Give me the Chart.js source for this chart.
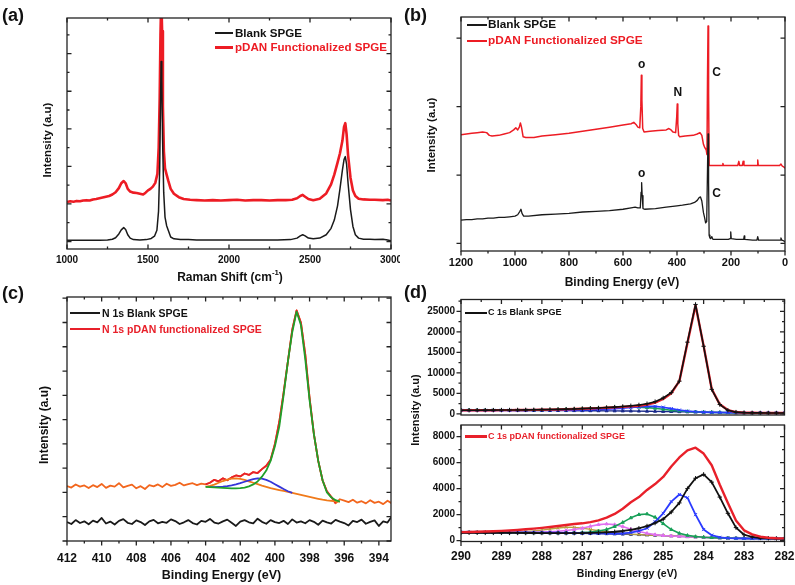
<!DOCTYPE html>
<html><head><meta charset="utf-8">
<script src="https://cdn.jsdelivr.net/npm/chart.js@4.4.1/dist/chart.umd.min.js"></script>
<style>
html,body{margin:0;padding:0;background:#fff;}
#wrap{position:relative;width:795px;height:585px;overflow:hidden;background:#fff;}
canvas{position:absolute;}
.t{position:absolute;font-family:'Liberation Sans',Arial,sans-serif;font-weight:bold;white-space:nowrap;line-height:1;color:#111;}
.c{transform:translate(-50%,-50%);}
.r{transform:translate(-50%,-50%) rotate(-90deg);}
.ln{position:absolute;height:2px;}
sup{font-size:65%;vertical-align:top;position:relative;top:-2px;}
</style></head><body>
<div id="wrap">
<canvas id="ca" width="400" height="290" style="left:0;top:0;width:400px;height:290px"></canvas>
<canvas id="cb" width="398" height="290" style="left:397px;top:0;width:398px;height:290px"></canvas>
<canvas id="cc" width="400" height="295" style="left:0;top:290px;width:400px;height:295px"></canvas>
<canvas id="cd1" width="398" height="130" style="left:397px;top:290px;width:398px;height:130px"></canvas>
<canvas id="cd2" width="398" height="165" style="left:397px;top:420px;width:398px;height:165px"></canvas>

<!-- panel labels -->
<div class="t" style="left:2px;top:6px;font-size:18px">(a)</div>
<div class="t" style="left:404px;top:6px;font-size:18px">(b)</div>
<div class="t" style="left:2px;top:284px;font-size:18px">(c)</div>
<div class="t" style="left:404px;top:283px;font-size:18px">(d)</div>

<!-- legends (a) -->
<div class="ln" style="left:215px;top:32px;width:18px;background:#1a1a1a"></div>
<div class="t" style="left:235px;top:27.4px;font-size:11.6px">Blank SPGE</div>
<div class="ln" style="left:215px;top:46px;width:18px;height:2.5px;background:#ed1c24"></div>
<div class="t" style="left:235px;top:41.4px;font-size:11.6px;color:#ed1c24">pDAN Functionalized SPGE</div>
<!-- legends (b) -->
<div class="ln" style="left:467px;top:24px;width:20px;background:#1a1a1a"></div>
<div class="t" style="left:488px;top:19.2px;font-size:11.8px">Blank SPGE</div>
<div class="ln" style="left:467px;top:40px;width:20px;background:#ed1c24"></div>
<div class="t" style="left:488px;top:35.2px;font-size:11.8px;color:#ed1c24">pDAN Functionalized SPGE</div>
<!-- legends (c) -->
<div class="ln" style="left:70px;top:312px;width:30px;background:#1a1a1a"></div>
<div class="t" style="left:102px;top:308px;font-size:10.5px">N 1s Blank SPGE</div>
<div class="ln" style="left:70px;top:328px;width:30px;background:#e8202a"></div>
<div class="t" style="left:102px;top:324px;font-size:10.5px;color:#e8202a">N 1s pDAN functionalized SPGE</div>
<!-- legends (d) -->
<div class="ln" style="left:465px;top:311.5px;width:22px;height:2.5px;background:#111"></div>
<div class="t" style="left:488px;top:308.3px;font-size:9px">C 1s Blank SPGE</div>
<div class="ln" style="left:465px;top:435px;width:22px;height:2.5px;background:#e8202a"></div>
<div class="t" style="left:488px;top:431.6px;font-size:9px;color:#e8202a">C 1s pDAN functionalized SPGE</div>

<!-- axis titles -->
<div class="t c" style="left:230px;top:276.5px;font-size:12px">Raman Shift (cm<sup>-1</sup>)</div>
<div class="t r" style="left:48px;top:140px;font-size:11.5px">Intensity (a.u)</div>
<div class="t c" style="left:622px;top:281.5px;font-size:12px">Binding Energy (eV)</div>
<div class="t r" style="left:431.5px;top:135px;font-size:11.5px">Intensity (a.u)</div>
<div class="t c" style="left:221.5px;top:575px;font-size:12.5px">Binding Energy (eV)</div>
<div class="t r" style="left:43.5px;top:425px;font-size:12px">Intensity (a.u)</div>
<div class="t c" style="left:627px;top:573.3px;font-size:10.5px">Binding Energy (eV)</div>
<div class="t r" style="left:415px;top:410px;font-size:11px">Intensity (a.u)</div>
</div>

<script>
// ================= DATA =================
// (a) Raman spectra  [Raman shift cm-1, intensity a.u.]
const ramanTicksX = [1000, 1500, 2000, 2500, 3000];
const ramanMinorX = [1250, 1750, 2250, 2750];
const ramanTicksY = [0, 1, 2, 3, 4, 5];
const ramanMinorY = [0.5, 1.5, 2.5, 3.5, 4.5, 5.5];
const ramanBlank = [[1000,0.03],[1050,0.03],[1100,0.03],[1150,0.03],[1200,0.03],[1250,0.04],[1280,0.06],[1300,0.10],[1320,0.20],[1335,0.31],[1350,0.37],[1362,0.32],[1375,0.18],[1390,0.09],[1410,0.05],[1450,0.04],[1490,0.05],[1520,0.08],[1540,0.14],[1555,0.30],[1565,0.8],[1572,1.9],[1577,3.6],[1581,4.79],[1585,4.3],[1590,2.7],[1597,1.3],[1605,0.65],[1615,0.42],[1625,0.30],[1640,0.12],[1660,0.07],[1700,0.05],[1750,0.05],[1800,0.04],[1900,0.04],[2000,0.04],[2100,0.04],[2200,0.04],[2300,0.04],[2380,0.05],[2420,0.09],[2440,0.15],[2455,0.18],[2470,0.15],[2490,0.09],[2520,0.07],[2560,0.09],[2600,0.18],[2630,0.35],[2650,0.57],[2670,0.95],[2685,1.40],[2700,1.90],[2710,2.18],[2718,2.26],[2726,2.05],[2735,1.55],[2750,0.85],[2765,0.40],[2780,0.18],[2800,0.09],[2830,0.06],[2870,0.06],[2900,0.05],[2950,0.06],[2980,0.04],[3000,0.02]];
const ramanPdan = [[1000,1.05],[1020,1.07],[1040,1.06],[1060,1.08],[1080,1.07],[1100,1.09],[1120,1.10],[1140,1.09],[1160,1.12],[1180,1.13],[1200,1.15],[1220,1.17],[1240,1.19],[1260,1.21],[1280,1.25],[1300,1.31],[1320,1.42],[1335,1.55],[1350,1.61],[1362,1.55],[1375,1.40],[1390,1.33],[1410,1.30],[1430,1.29],[1450,1.27],[1470,1.25],[1485,1.30],[1500,1.36],[1515,1.40],[1530,1.46],[1545,1.56],[1558,1.80],[1566,2.5],[1572,3.8],[1577,5.5],[1582,6.5],[1587,5.6],[1592,3.6],[1598,2.4],[1605,1.95],[1615,1.78],[1625,1.62],[1640,1.40],[1660,1.27],[1690,1.18],[1720,1.13],[1760,1.11],[1800,1.10],[1850,1.09],[1900,1.10],[1950,1.09],[2000,1.10],[2050,1.11],[2100,1.09],[2150,1.10],[2200,1.10],[2250,1.09],[2300,1.10],[2350,1.10],[2390,1.11],[2420,1.15],[2440,1.21],[2455,1.24],[2470,1.19],[2490,1.13],[2520,1.10],[2560,1.14],[2600,1.28],[2630,1.52],[2650,1.78],[2670,2.10],[2685,2.35],[2700,2.68],[2710,3.05],[2718,3.15],[2726,2.85],[2735,2.30],[2750,1.70],[2765,1.36],[2780,1.21],[2800,1.14],[2830,1.12],[2870,1.11],[2900,1.11],[2950,1.10],[2980,1.11],[3000,1.09]];

// (b) XPS survey  [binding energy eV, intensity a.u.]
const surveyTicksX = [1200, 1000, 800, 600, 400, 200, 0];
const surveyMinorX = [1100, 900, 700, 500, 300, 100];
const surveyTicksY = [0, 1, 2, 3];
const surveyBlank = [[1200,0.34],[1180,0.35],[1160,0.35],[1140,0.36],[1120,0.36],[1100,0.37],[1080,0.37],[1060,0.38],[1040,0.38],[1020,0.39],[1000,0.40],[990,0.42],[982,0.47],[978,0.50],[974,0.44],[968,0.40],[950,0.40],[900,0.42],[850,0.43],[800,0.44],[750,0.46],[700,0.47],[650,0.48],[600,0.50],[570,0.52],[555,0.53],[545,0.52],[536,0.52],[533,0.75],[531,0.89],[529,0.70],[526,0.51],[520,0.50],[480,0.51],[440,0.53],[400,0.55],[380,0.56],[350,0.58],[335,0.60],[325,0.63],[318,0.67],[313,0.68],[308,0.62],[302,0.45],[298,0.38],[294,0.30],[290,0.32],[287,1.1],[285,1.6],[283,0.9],[281,0.12],[278,0.08],[275,0.07],[271,0.10],[267,0.06],[240,0.06],[210,0.06],[203,0.07],[201,0.17],[199,0.07],[180,0.06],[160,0.06],[153,0.06],[151,0.11],[149,0.06],[120,0.05],[104,0.05],[101,0.10],[98,0.05],[60,0.05],[30,0.05],[18,0.05],[15,0.08],[12,0.05],[5,0.04],[0,0.02]];
const surveyPdan = [[1200,1.59],[1180,1.60],[1160,1.61],[1140,1.62],[1120,1.63],[1105,1.62],[1095,1.58],[1085,1.57],[1060,1.58],[1040,1.60],[1020,1.62],[1005,1.66],[997,1.69],[990,1.66],[984,1.70],[980,1.76],[976,1.70],[970,1.56],[960,1.55],[930,1.55],[900,1.57],[850,1.59],[800,1.61],[750,1.64],[700,1.67],[650,1.70],[600,1.73],[570,1.75],[560,1.77],[552,1.74],[545,1.70],[538,1.69],[534,2.0],[532,2.46],[530,2.1],[527,1.68],[522,1.63],[500,1.64],[470,1.65],[440,1.66],[430,1.68],[422,1.66],[415,1.63],[405,1.62],[401,1.85],[399,2.04],[397,1.75],[394,1.58],[390,1.56],[370,1.57],[340,1.58],[325,1.60],[315,1.62],[308,1.58],[302,1.45],[297,1.40],[292,1.37],[289,1.30],[287,2.4],[285,3.18],[283,2.2],[281,1.14],[275,1.14],[240,1.14],[232,1.14],[230,1.17],[228,1.14],[200,1.14],[175,1.14],[171,1.20],[168,1.14],[158,1.14],[155,1.20],[152,1.14],[110,1.14],[103,1.14],[101,1.22],[99,1.14],[50,1.14],[20,1.14],[15,1.16],[10,1.13],[5,1.12],[0,1.10]];
const surveyNotes = [{x:531,y:2.61,t:'o'},{x:397,y:2.20,t:'N'},{x:253,y:2.50,t:'C'},{x:531,y:1.02,t:'o'},{x:253,y:0.73,t:'C'}];

// (c) N 1s  [binding energy eV, intensity a.u.]
const n1sTicksX = [412, 410, 408, 406, 404, 402, 400, 398, 396, 394];
const n1sMinorX = [411, 409, 407, 405, 403, 401, 399, 397, 395];
const n1sTicksY = [0, 1, 2, 3, 4, 5, 6, 7, 8, 9, 10];
const n1sX = [412,411.75,411.5,411.25,411,410.75,410.5,410.25,410,409.75,
  409.5,409.25,409,408.75,408.5,408.25,408,407.75,407.5,407.25,
  407,406.75,406.5,406.25,406,405.75,405.5,405.25,405,404.75,
  404.5,404.25,404,403.75,403.5,403.25,403,402.75,402.5,402.25,
  402,401.75,401.5,401.25,401,400.75,400.5,400.25,400,399.75,
  399.5,399.25,399,398.75,398.5,398.25,398,397.75,397.5,397.25,
  397,396.75,396.5,396.25,396,395.75,395.5,395.25,395,394.75,
  394.5,394.25,394,393.75,393.5,393.25];
const n1sBlank = [0.78,0.70,0.86,0.74,0.81,0.69,0.84,0.77,0.95,0.72,
  0.80,0.68,0.83,0.90,0.75,0.70,0.85,0.78,0.66,0.81,
  0.87,0.73,0.79,0.75,0.89,0.82,0.70,0.77,0.86,0.74,
  0.68,0.83,0.79,0.91,0.76,0.72,0.81,0.88,0.75,0.62,
  0.80,0.86,0.77,0.73,0.92,0.79,0.71,0.86,0.78,0.74,
  0.83,0.70,0.89,0.76,0.81,0.73,0.86,0.79,0.67,0.84,
  0.77,0.72,0.87,0.80,0.74,0.64,0.83,0.78,0.88,0.71,
  0.79,0.85,0.62,0.81,0.76,1.02];
const n1sPdan = [2.26,2.20,2.33,2.24,2.29,2.18,2.30,2.22,2.35,2.19,
  2.28,2.24,2.38,2.21,2.27,2.32,2.17,2.26,2.14,2.30,
  2.25,2.33,2.22,2.36,2.27,2.31,2.40,2.29,2.34,2.38,
  2.30,2.36,2.33,2.40,2.52,2.46,2.58,2.50,2.62,2.70,
  2.66,2.78,2.72,2.84,2.80,2.96,3.10,3.35,4.0,4.9,
  6.1,7.4,8.7,9.5,9.0,7.7,5.9,4.4,3.3,2.5,
  2.05,1.82,1.55,1.72,1.66,1.60,1.70,1.58,1.64,1.55,
  1.68,1.57,1.62,1.52,1.66,1.55];
// fitted curves, x = n1sX from index 32 (404 eV)
const n1sMainFit = [2.23,2.22,2.21,2.20,2.19,2.18,2.17,2.17,2.18,2.20,2.25,2.33,2.45,2.65,2.90,3.30,3.90,4.70,6.00,7.40,8.60,9.45,8.90,7.50,5.80,4.40,3.30,2.50,2.00,1.80,1.68,1.62];
const n1sBackground = [2.23,2.27,2.32,2.40,2.47,2.53,2.57,2.58,2.56,2.52,2.46,2.40,2.34,2.28,2.23,2.18,2.14,2.10,2.06,2.02,1.98,1.94,1.90,1.86,1.82,1.78,1.74,1.70,1.67,1.65,1.63,1.62];
// x = n1sX from index 33 (403.75 eV)
const n1sSecondFit = [2.22,2.22,2.23,2.24,2.26,2.29,2.33,2.38,2.44,2.50,2.55,2.58,2.57,2.52,2.44,2.34,2.24,2.14,2.05,1.98];

// (d) C 1s  [binding energy eV, counts]
const c1sTicksX = [290, 289, 288, 287, 286, 285, 284, 283, 282];
const c1sMinorX = [289.5, 288.5, 287.5, 286.5, 285.5, 284.5, 283.5, 282.5];
const c1sTopTicksY = [0, 5000, 10000, 15000, 20000, 25000];
const c1sTopMinorY = [2500, 7500, 12500, 17500, 22500, 27500];
const c1sBotTicksY = [0, 2000, 4000, 6000, 8000];
const c1sBotMinorY = [1000, 3000, 5000, 7000];
const c1sX = [290,289.8,289.6,289.4,289.2,289,288.8,288.6,288.4,288.2,
  288,287.8,287.6,287.4,287.2,287,286.8,286.6,286.4,286.2,
  286,285.8,285.6,285.4,285.2,285,284.8,284.6,284.4,284.2,
  284,283.8,283.6,283.4,283.2,283,282.8,282.6,282.4,282.2,282];
const c1sBlankData = [900,910,920,930,940,955,970,985,1000,1020,1050,1080,1120,1170,1230,1300,1380,1460,1560,1680,1830,2000,2200,2500,3000,3900,5200,8000,17500,26700,16500,6000,2300,900,450,320,280,260,250,240,230];
const c1sBlankFit = [880,890,900,910,920,935,950,965,980,1000,1030,1060,1100,1150,1210,1270,1340,1420,1500,1600,1720,1850,2020,2280,2780,3650,5050,8000,17300,26500,16600,6100,2350,950,470,330,285,262,250,240,230];
const c1sBlankGreen = [900,900,900,900,905,910,920,935,955,980,1010,1050,1100,1160,1230,1300,1380,1460,1540,1610,1660,1680,1650,1550,1380,1150,920,740,610,520,450,400,360,330,310,295,285,278,272,268,265];
const c1sBlankBlue = [880,880,880,880,880,880,882,885,888,892,898,905,915,930,950,980,1020,1080,1160,1270,1400,1560,1720,1850,1850,1650,1300,950,700,540,450,390,355,330,310,295,285,278,272,268,265];
const c1sBlankBase = [900,895,890,885,880,875,870,865,860,850,840,830,820,810,800,790,780,770,760,745,730,710,690,665,640,610,575,540,500,460,420,385,355,330,310,295,285,278,272,268,265];
const c1sPdanEnvelope = [650,665,680,700,720,750,780,820,870,920,980,1050,1120,1200,1280,1330,1420,1560,1770,2050,2450,2950,3350,3900,4350,4900,5710,6400,6950,7150,6700,5800,4300,2900,1550,790,480,300,220,185,170];
const c1sPdanBlack = [600,600,598,596,594,592,590,588,586,584,582,580,578,576,575,580,590,610,640,680,740,830,950,1120,1350,1650,2200,2900,4000,4800,5100,4500,3350,2100,1000,450,280,200,170,155,150];
const c1sPdanBlue = [640,640,638,636,634,632,630,627,624,620,616,610,604,597,589,580,570,560,550,545,560,620,740,950,1450,2100,3000,3550,3300,2000,850,420,250,190,170,160,155,152,151,150,150];
const c1sPdanGreen = [620,620,618,616,614,612,610,607,604,600,596,592,590,592,600,620,660,740,860,1080,1400,1750,2000,2050,1800,1300,850,560,400,310,260,228,208,192,180,170,163,158,154,151,150];
const c1sPdanMagenta = [620,620,618,616,614,612,612,615,620,630,650,680,720,780,850,950,1100,1230,1280,1230,1080,880,700,560,460,390,355,328,300,275,250,228,208,192,180,170,163,158,154,151,150];
const c1sPdanOlive = [620,620,620,622,625,630,640,660,690,740,810,890,970,1030,1020,960,860,760,680,620,560,500,460,430,410,385,358,330,302,275,250,228,208,192,180,170,163,158,154,151,150];
const c1sPdanBase = [620,620,618,616,614,612,610,607,604,600,596,590,584,577,569,560,550,538,525,510,494,476,456,434,410,385,358,330,302,275,250,228,208,192,180,170,163,158,154,151,150];

// ================= DRAWING =================
const FONT = "'Liberation Sans', Arial, sans-serif";
const pairs = arr => arr.map(p => ({x: p[0], y: p[1]}));
const zip = (xs, ys, off) => ys.map((y, i) => ({x: xs[i + (off || 0)], y}));

const framePlugin = {
  id: 'frame',
  afterDraw(chart, args, o) {
    const {ctx, chartArea: a} = chart;
    const xs = chart.scales.x, ys = chart.scales.y;
    ctx.save();
    ctx.strokeStyle = '#222';
    ctx.lineWidth = 1.3;
    const mark = (side, vals, len) => {
      const dir = o.dirs[side];
      if (!dir || !vals) return;
      const s = dir === 'in' ? 1 : -1;
      for (const v of vals) {
        if (side === 'bottom' || side === 'top') {
          const p = xs.getPixelForValue(v);
          if (p < a.left - 0.5 || p > a.right + 0.5) continue;
          const y0 = side === 'bottom' ? a.bottom : a.top;
          const d = side === 'bottom' ? -s * len : s * len;
          ctx.moveTo(p, y0); ctx.lineTo(p, y0 + d);
        } else {
          const p = ys.getPixelForValue(v);
          if (p < a.top - 0.5 || p > a.bottom + 0.5) continue;
          const x0 = side === 'left' ? a.left : a.right;
          const d = side === 'left' ? s * len : -s * len;
          ctx.moveTo(x0, p); ctx.lineTo(x0 + d, p);
        }
      }
    };
    ctx.beginPath();
    ['bottom', 'top'].forEach(sd => { mark(sd, o.xMajor, 4.5); mark(sd, o.xMinor, 2.5); });
    ['left', 'right'].forEach(sd => { mark(sd, o.yMajor, 4.5); mark(sd, o.yMinor, 2.5); });
    ctx.stroke();
    ctx.strokeRect(a.left, a.top, a.right - a.left, a.bottom - a.top);
    if (o.notes) {
      ctx.fillStyle = '#111';
      ctx.font = 'bold 12px ' + FONT;
      ctx.textAlign = 'center';
      ctx.textBaseline = 'middle';
      for (const n of o.notes) ctx.fillText(n.t, xs.getPixelForValue(n.x), ys.getPixelForValue(n.y));
    }
    ctx.restore();
  }
};

function axis(o) {
  return {
    type: 'linear', min: o.min, max: o.max, reverse: !!o.reverse,
    grid: {display: false, drawTicks: false}, border: {display: false},
    ticks: {display: !!o.labels, autoSkip: false, maxRotation: 0, minRotation: 0, padding: o.pad || 4,
            color: '#111', font: {family: FONT, size: o.fs || 10, weight: 'bold'}, callback: v => String(v)},
    afterBuildTicks: s => { s.ticks = o.major.map(v => ({value: v})); },
    afterFit: s => {
      if (o.w != null) s.width = o.w;
      if (o.h != null) s.height = o.h;
      s.paddingLeft = 0; s.paddingRight = 0; s.paddingTop = 0; s.paddingBottom = 0;
    },
    title: {display: false}
  };
}

function ds(data, color, width, extra) {
  return Object.assign({data, borderColor: color, backgroundColor: color, borderWidth: width,
    pointRadius: 0, fill: false, tension: 0}, extra || {});
}

function makeChart(id, datasets, xo, yo, padding, frame) {
  return new Chart(document.getElementById(id), {
    type: 'line',
    data: {datasets},
    options: {
      responsive: false, animation: false, devicePixelRatio: 1,
      layout: {padding},
      plugins: {legend: {display: false}, tooltip: {enabled: false}, frame},
      elements: {point: {radius: 0}, line: {borderJoinStyle: 'round'}},
      scales: {x: axis(xo), y: axis(yo)}
    },
    plugins: [framePlugin]
  });
}

const BLACK = '#1a1a1a', RED = '#ed1c24';

// (a)
makeChart('ca', [
  ds(pairs(ramanBlank), BLACK, 1.5),
  ds(pairs(ramanPdan), RED, 2.6)
], {min: 1000, max: 3000, major: ramanTicksX, labels: true, fs: 10, pad: 5, h: 41},
   {min: -0.2, max: 5.95, major: ramanTicksY, w: 67},
   {left: 0, top: 18, right: 9, bottom: 0},
   {dirs: {bottom: 'in', top: 'in', left: 'in', right: 'in'}, xMajor: ramanTicksX, xMinor: ramanMinorX, yMajor: ramanTicksY, yMinor: ramanMinorY});

// (b)
makeChart('cb', [
  ds(pairs(surveyBlank), BLACK, 1.3),
  ds(pairs(surveyPdan), RED, 1.5)
], {min: 0, max: 1200, reverse: true, major: surveyTicksX, labels: true, fs: 11, pad: 5.7, h: 39},
   {min: -0.11, max: 3.31, major: surveyTicksY, w: 64},
   {left: 0, top: 17, right: 10, bottom: 0},
   {dirs: {bottom: 'out', top: 'in', left: 'out', right: 'in'}, xMajor: surveyTicksX, xMinor: surveyMinorX, yMajor: surveyTicksY, notes: surveyNotes});

// (c)
makeChart('cc', [
  ds(zip(n1sX, n1sMainFit, 32), '#1fa02a', 1.8),
  ds(zip(n1sX, n1sSecondFit, 33), '#3535d8', 1.8),
  ds(zip(n1sX, n1sBackground, 32), '#f07a1a', 1.8),
  ds(zip(n1sX, n1sPdan).slice(32, 63), '#e8202a', 1.8),
  ds(zip(n1sX, n1sPdan), '#f2661d', 1.8),
  ds(zip(n1sX, n1sBlank), BLACK, 1.8)
], {min: 393.3, max: 412, reverse: true, major: n1sTicksX, labels: true, fs: 12, pad: 10, h: 44},
   {min: 0, max: 10.05, major: n1sTicksY, w: 67},
   {left: 0, top: 7, right: 9, bottom: 0},
   {dirs: {bottom: 'out', top: 'in', left: 'out', right: 'in'}, xMajor: n1sTicksX, xMinor: n1sMinorX, yMajor: n1sTicksY});

// (d) top
const mk = (style, r) => ({pointRadius: r || 2, pointStyle: style, pointBorderWidth: 1});
makeChart('cd1', [
  ds(zip(c1sX, c1sBlankData), '#111', 1.6, mk('cross', 2.2)),
  ds(zip(c1sX, c1sBlankFit), '#e8202a', 2.4),
  ds(zip(c1sX, c1sBlankBlue), '#2b3bff', 1.6, mk('crossRot', 2.2)),
  ds(zip(c1sX, c1sBlankGreen), '#18a058', 1.6, mk('triangle', 1.8)),
  ds(zip(c1sX, c1sBlankBase), '#1b2a8a', 1.4, mk('triangle', 1.8))
], {min: 282, max: 290, reverse: true, major: c1sTicksX, labels: false, h: 0},
   {min: -250, max: 27900, major: c1sTopTicksY, labels: true, fs: 10, pad: 6, w: 64},
   {left: 0, top: 9.5, right: 10.5, bottom: 0},
   {dirs: {bottom: null, top: 'in', left: 'out', right: 'in'}, xMajor: c1sTicksX, xMinor: c1sMinorX, yMajor: c1sTopTicksY, yMinor: c1sTopMinorY});

// (d) bottom
makeChart('cd2', [
  ds(zip(c1sX, c1sPdanEnvelope), '#e8202a', 2.4),
  ds(zip(c1sX, c1sPdanBlack), '#111', 1.8, mk('cross', 2.2)),
  ds(zip(c1sX, c1sPdanBlue), '#2b3bff', 1.8, mk('crossRot', 2.2)),
  ds(zip(c1sX, c1sPdanGreen), '#18a058', 1.6, mk('triangle', 1.8)),
  ds(zip(c1sX, c1sPdanMagenta), '#e070f0', 1.6, mk('triangle', 1.8)),
  ds(zip(c1sX, c1sPdanOlive), '#b8a040', 1.4, mk('crossRot', 2)),
  ds(zip(c1sX, c1sPdanBase), '#1b2a8a', 1.4, mk('triangle', 1.8))
], {min: 282, max: 290, reverse: true, major: c1sTicksX, labels: true, fs: 12, pad: 8, h: 43.5},
   {min: -70, max: 8900, major: c1sBotTicksY, labels: true, fs: 10, pad: 6, w: 64},
   {left: 0, top: 0, right: 10.5, bottom: 0},
   {dirs: {bottom: 'out', top: 'in', left: 'out', right: 'in'}, xMajor: c1sTicksX, xMinor: c1sMinorX, yMajor: c1sBotTicksY, yMinor: c1sBotMinorY});
</script>
</body></html>
